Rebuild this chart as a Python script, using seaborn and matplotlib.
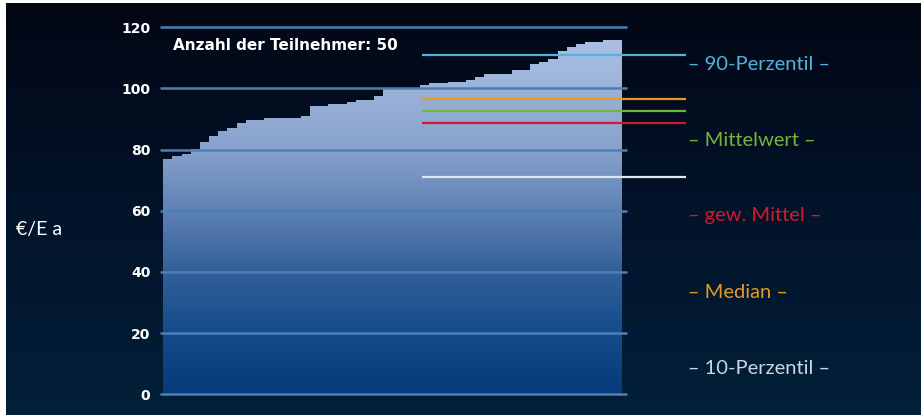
import numpy as np
import seaborn as sns
import matplotlib.pyplot as plt
from matplotlib.colors import LinearSegmentedColormap
from matplotlib.path import Path
from matplotlib.patches import PathPatch

# data (sorted costs per participant, EUR per inhabitant and year)
participants = list(range(1, 51))
costs = [76.9, 77.8, 78.6, 80.3, 82.3, 84.3, 86.1, 87.0, 88.7, 89.5,
         89.5, 90.2, 90.2, 90.2, 90.2, 91.1, 94.1, 94.1, 95.0, 95.0,
         95.5, 96.3, 96.3, 97.4, 100.0, 100.0, 100.0, 100.2, 101.0, 101.7,
         101.8, 101.9, 101.9, 102.6, 103.7, 104.8, 104.8, 104.8, 105.9, 105.9,
         107.8, 108.6, 109.5, 112.2, 113.5, 114.3, 115.1, 115.1, 115.9, 115.9]

stat_names = ["90-Perzentil", "Median", "Mittelwert", "gew. Mittel", "10-Perzentil"]
stat_values = [111.0, 96.5, 92.7, 88.8, 71.1]
stat_colors = ["#4fb3dc", "#e39a22", "#78b33a", "#d11a2e", "#dfe7f1"]

# order of the labels on the right side, top to bottom
label_order = ["90-Perzentil", "Mittelwert", "gew. Mittel", "Median", "10-Perzentil"]
label_colors = ["#4fb3dc", "#78b33a", "#d11a2e", "#e39a22", "#c9d5e2"]

y_ticks = [0, 20, 40, 60, 80, 100, 120]

W, H = 924, 417


def fx(px):
    return px / W


def fy(py):
    return 1 - py / H


sns.set_theme(style="white")
plt.rcParams["font.family"] = ["DejaVu Sans"]

fig = plt.figure(figsize=(W / 100, H / 100), dpi=100, facecolor="white")

# dark gradient background panel
bg = fig.add_axes([fx(6), fy(415), fx(921) - fx(6), fy(3) - fy(415)], zorder=0)
bg_cmap = LinearSegmentedColormap.from_list("bg", ["#020714", "#02132a", "#022039"])
bg.imshow(np.linspace(0, 1, 256).reshape(-1, 1), aspect="auto", cmap=bg_cmap,
          extent=[0, 1, 0, 1], origin="upper")
bg.set_axis_off()

# main chart axes, pixel mapped
x_left, x_right = (160 - 163.3) / 9.17 - 0.5, (690 - 163.3) / 9.17 - 0.5
ax = fig.add_axes([fx(160), fy(400.6), fx(690) - fx(160), fy(20.9) - fy(400.6)], zorder=1)
ax.patch.set_alpha(0)

sns.barplot(x=participants, y=costs, width=1.0, color="#8aa4cb", ax=ax,
            linewidth=0, saturation=1)
ax.set_xlim(x_left, x_right)
ax.set_ylim(-2, 122)

# gradient fill clipped to the bar outline
paths = [p.get_path().transformed(p.get_patch_transform()) for p in ax.patches]
clip = PathPatch(Path.make_compound_path(*paths), transform=ax.transData,
                 facecolor="none", edgecolor="none")
ax.add_patch(clip)
bar_cmap = LinearSegmentedColormap.from_list(
    "bars", ["#073a7a", "#144c8b", "#33609a", "#5f82b5", "#87a2cb", "#9cb3d9", "#aec2e6"])
grad = np.linspace(1, 0, 256).reshape(-1, 1)
im = ax.imshow(grad, aspect="auto", cmap=bar_cmap, extent=[-0.5, 49.5, 0, 120],
               origin="upper", zorder=1)
im.set_clip_path(clip)
for p in ax.patches:
    if p is not clip:
        p.set_visible(False)

# grid lines over the bars
ax.hlines(y_ticks, x_left, 50.03, color="#4d7fb6", lw=1.8, zorder=2)

# statistic lines
for val, col in zip(stat_values, stat_colors):
    ax.hlines(val, 27.74, 56.47, color=col, lw=1.6, zorder=3)

ax.set_yticks(y_ticks)
ax.set_yticklabels([str(t) for t in y_ticks], color="white", fontweight="bold", fontsize=10)
ax.tick_params(axis="y", length=0, pad=7)
ax.set_xticks([])
ax.set_xlabel("")
ax.set_ylabel("")
sns.despine(ax=ax, left=True, bottom=True)

fig.text(fx(173), fy(46), "Anzahl der Teilnehmer: 50", color="white", fontweight="bold",
         fontsize=11, va="center", ha="left")

fig.text(fx(16), fy(230), "€/E a", color="white", fontsize=14, family="Lato",
         va="center", ha="left")

label_y = [65, 140, 216, 292, 368]
for name, col, py in zip(label_order, label_colors, label_y):
    fig.text(fx(688), fy(py), f"– {name} –", color=col, fontsize=14.5, family="Lato",
             va="center", ha="left")

fig.savefig("out.png", dpi=100, facecolor="white")
